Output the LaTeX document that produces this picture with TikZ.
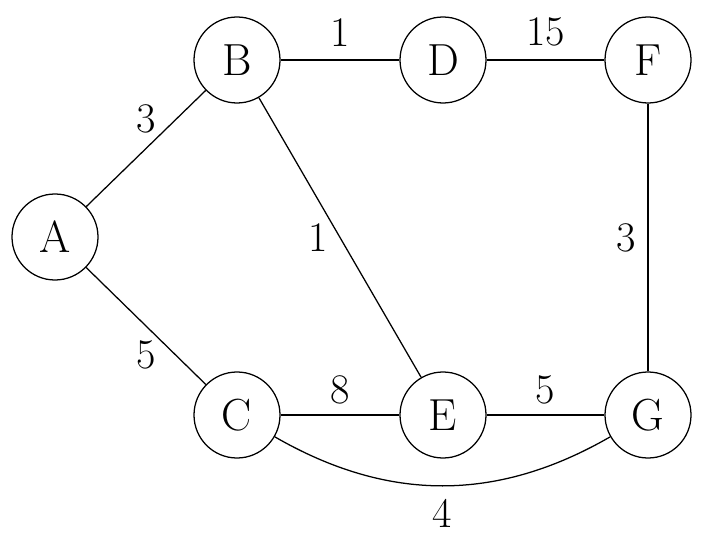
\documentclass[tikz,border=0pt]{standalone}
\begin{document}
\begin{tikzpicture}[
  line width=0.9pt,
  vertex/.style={circle, draw, minimum size=2.15cm, inner sep=0pt,
    font=\fontsize{32}{38}\selectfont},
  weight/.style={draw=none, font=\fontsize{30}{36}\selectfont}
]
  \useasboundingbox (0,0) rectangle (17.7,13.85);
  \node[vertex] (A) at (1.375,7.925) {A};
  \node[vertex] (B) at (5.925,12.35) {B};
  \node[vertex] (D) at (11.075,12.35) {D};
  \node[vertex] (F) at (16.2,12.35) {F};
  \node[vertex] (C) at (5.925,3.475) {C};
  \node[vertex] (E) at (11.075,3.475) {E};
  \node[vertex] (G) at (16.2,3.475) {G};

  \draw (A) -- node[weight, above=7pt] (wAB) {3} (B);
  \draw (A) -- node[weight, below=7pt] (wAC) {5} (C);
  \draw (B) -- node[weight, above=6pt] (wBD) {1} (D);
  \draw (D) -- node[weight, above=6pt] (wDF) {15} (F);
  \draw (B) -- node[weight, left=5pt] (wBE) {1} (E);
  \draw (F) -- node[weight, left=5pt] (wFG) {3} (G);
  \draw (C) -- node[weight, above=4pt] (wCE) {8} (E);
  \draw (E) -- node[weight, above=4pt] (wEG) {5} (G);
  \draw (C) to[bend right=30] node[weight, below=6pt] (wCG) {4} (G);
\end{tikzpicture}
\end{document}
